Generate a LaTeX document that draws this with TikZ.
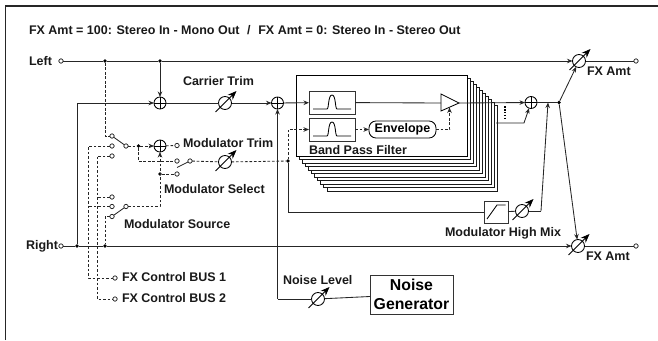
\documentclass[tikz,border=0pt]{standalone}
\usepackage{fontspec}
\setmainfont{Liberation Sans}
\usetikzlibrary{arrows.meta,calc}
\tikzset{
  wire/.style={line width=0.85pt,draw=black!85},
  dsh/.style={wire,dash pattern=on 2.6pt off 1.9pt},
  tip/.style={-{Stealth[length=5.5pt,width=4.5pt]}},
  term/.style={circle,draw=black!85,fill=white,line width=0.75pt,minimum size=4.4pt,inner sep=0,outer sep=0},
  jdot/.style={circle,fill=black,minimum size=3.8pt,inner sep=0,outer sep=0},
  summer/.style={circle,draw=black,fill=white,line width=0.85pt,minimum size=12pt,inner sep=0,outer sep=0,
    path picture={\draw[line width=0.85pt] (path picture bounding box.north)--(path picture bounding box.south)
      (path picture bounding box.west)--(path picture bounding box.east);}},
  knob/.style={circle,draw=black,fill=white,line width=0.85pt,minimum size=13pt,inner sep=0,outer sep=0},
  fbox/.style={draw=black!80,fill=white,line width=0.9pt,inner sep=0,outer sep=0},
  lbl/.style={font=\bfseries\fontsize{12.5}{14}\selectfont,inner sep=0,outer sep=0,anchor=west,text=black!90},
}
\newcommand{\vrknob}[2]{%
  \node[knob] (#1) at (#2) {};
  \draw[line width=0.85pt,-{Stealth[length=9pt,width=7pt]}] ($(#1)+(-9.5,9)$) -- ($(#1)+(11.5,-12)$);
}
\begin{document}
\begin{tikzpicture}[x=1pt,y=-1pt]
\useasboundingbox (0,0) rectangle (658,340);
\draw[line width=1.1pt,draw=black!85] (5.5,340) -- (5.5,6) -- (658,6);

\node[lbl] (title) at (29,30.5) {FX Amt = 100: Stereo In - Mono Out\,\, /\,\, FX Amt = 0: Stereo In - Stereo Out};
\node[lbl] (lleft) at (29,61) {Left};
\node[lbl] (lright) at (26,246) {Right};
\node[lbl] (lcar) at (183,81) {Carrier Trim};
\node[lbl] (lmodt) at (183,143) {Modulator Trim};
\node[lbl] (lmods) at (164,189.5) {Modulator Select};
\node[lbl] (lsrc) at (124,224.5) {Modulator Source};
\node[lbl] (lb1) at (122,277) {FX Control BUS 1};
\node[lbl] (lb2) at (122,298) {FX Control BUS 2};
\node[lbl] (lnoise) at (283,280) {Noise Level};
\node[lbl] (lhigh) at (445,233) {Modulator High Mix};
\node[lbl] (lfx1) at (587,71) {FX Amt};
\node[lbl] (lfx2) at (586,256) {FX Amt};

% filter stack
\foreach \i in {10,...,1}{
  \draw[draw=black!90,fill=white,line width=0.85pt] ({296+3.1*\i},{75+3*\i}) rectangle ({467+3*\i},{156+3.5*\i});
}
\node[fbox,draw=black,minimum width=171pt,minimum height=81pt] (bpf) at (381.5,115.5) {};
\node[lbl] (lbpf) at (309,150) {Band Pass Filter};

% terminals
\node[term] (inL) at (61,61) {};
\node[term] (inR) at (61,246) {};
\node[term] (outL) at (636,61) {};
\node[term] (outR) at (636,246) {};
\node[term] (bus1) at (115,278) {};
\node[term] (bus2) at (115,299) {};
\node[term] (sa1) at (112,136) {};
\node[term] (sa2) at (112,146) {};
\node[term] (sa3) at (112,156) {};
\node[term] (sap) at (126,146) {};
\node[term] (sb1) at (112,197) {};
\node[term] (sb2) at (112,206.5) {};
\node[term] (sb3) at (112,216.5) {};
\node[term] (sbp) at (126,206.5) {};
\node[term] (sc1) at (177,161) {};
\node[term] (sc2) at (177,174) {};
\node[term] (scp) at (190,161) {};
\node[term] (trimend) at (177,145.5) {};

% junctions
\node[jdot] (jL1) at (105,61) {};
\node[jdot] (jL2) at (160,61) {};
\node[jdot] (jR1) at (77,246) {};
\node[jdot] (jR2) at (105,246) {};
\node[jdot] (jm) at (138.5,146) {};
\node[jdot] (js) at (160,174) {};
\node[jdot] (jf) at (288,161) {};
\node[jdot] (jo) at (559,102.5) {};

% summers
\node[summer] (p1) at (160,103) {};
\node[summer] (p2) at (277.5,103) {};
\node[summer] (pm) at (160,146) {};
\node[summer] (p3) at (531,102.5) {};

% boxes
\node[fbox,minimum width=46pt,minimum height=23pt] (bp1) at (332,102.5) {};
\node[fbox,minimum width=46pt,minimum height=23pt] (bp2) at (332,129.5) {};
\draw[line width=0.85pt] (313,109) -- (327,109) .. controls (329,109) and (328,95) .. (332,95) .. controls (336,95) and (335,109) .. (337,109) -- (351,109);
\draw[line width=0.85pt] (313,136) -- (327,136) .. controls (329,136) and (328,122) .. (332,122) .. controls (336,122) and (335,136) .. (337,136) -- (351,136);
\node[draw=black,fill=white,line width=0.85pt,rounded corners=7pt,minimum width=67pt,minimum height=17pt,inner sep=0,outer sep=0,font=\bfseries\fontsize{12.5}{14}\selectfont] (env) at (402.5,129.5) {Envelope};
\node[fbox,minimum width=24pt,minimum height=22pt] (hp) at (496,212) {};
\draw[line width=0.85pt] (487,219) -- (497,205) -- (505.5,205);
\node[fbox,minimum width=83pt,minimum height=39pt,align=center,font=\bfseries\fontsize{15.8}{19}\selectfont] (noise) at (411.5,294.5) {Noise\\Generator};

% triangle
\coordinate (triin) at (441,103);
\coordinate (tri) at (459,103);
\coordinate (trib) at (449.5,107.5);
\draw[fill=white,line width=0.85pt] (441,94) -- (tri) -- (441,111) -- cycle;

% knobs
\vrknob{vc}{225,103}
\vrknob{vm}{225,162}
\vrknob{vn}{318,299}
\vrknob{vh}{522,211}
\vrknob{vol}{579,61}
\vrknob{vor}{578,246}

% switch levers
\draw[wire] (sa1) -- (sap);
\draw[wire] (sb3) -- (sbp);
\draw[wire] ($(sc2)+(0,-6.5)$) -- (scp);

% solid wires
\draw[wire] (inL) -- (jL1);
\draw[wire] (jL1) -- (jL2);
\draw[wire,tip] (jL2) -- (vol);
\draw[wire] (vol) -- (outL);
\draw[wire,tip,line width=0.9pt] (jL2) -- (p1);
\draw[wire] (inR) -- (jR1);
\draw[wire] (jR1) -- (jR2);
\draw[wire,tip] (jR2) -- (vor);
\draw[wire] (vor) -- (outR);
\draw[wire,tip] (jR1) |- (p1);
\draw[wire] (p1) -- (vc);
\draw[wire,tip] (vc) -- (p2);
\draw[wire,tip] (p2) -- (bp1);
\draw[wire] (bp1) -- (triin);
\draw[wire,tip] (tri) -- (p3);
\coordinate (st) at (496,123);
\coordinate (stb) at (524,123);
\draw[wire,tip] (st) -- (stb) -- (p3);
\draw[wire] (p3) -- (jo);
\draw[wire,tip] (jo) -- (vol);
\draw[wire,tip] (jo) -- (vor);
\coordinate (hb) at (541,211);
\coordinate (hm) at (548,102.5);
\draw[wire] (vh) -- (hb);
\draw[wire,tip] (hb) -- (hm);
\draw[wire] (hp) -- (vh);
\draw[wire] (jf) |- (hp);
\coordinate (nb) at (277.5,299);
\draw[wire] (noise) -- (vn);
\draw[wire] (vn) -- (nb);
\draw[wire,tip] (nb) -- (p2);
\draw[line width=1.9pt,dash pattern=on 1.6pt off 1.3pt] (505,106) -- (505,119);

% dashed wires
\draw[dsh] (jL1) |- (sa1);
\draw[dsh] (sap) -- (jm);
\draw[dsh,tip] (jm) -- (pm);
\draw[dsh] (pm) -- (trimend);
\draw[dsh] (jm) |- (sc1);
\draw[dsh] (scp) -- (vm);
\draw[dsh] (vm) -- (jf);
\draw[dsh,tip] (jf) |- (bp2);
\draw[dsh,tip] (bp2) -- (env);
\draw[dsh,tip] (env) -| (trib);
\draw[dsh] (js) -- (sc2);
\draw[dsh,tip] (sbp) -| (pm);
\draw[dsh] (sb3) -| (jR2);
\coordinate (xa) at (88.5,146);
\coordinate (xb) at (97,156);
\draw[dsh] (sa2) -- (xa) |- (bus1);
\draw[dsh] (sa3) -- (xb) |- (bus2);
\draw[dsh] (sb2) -- (sb2 -| xa);
\draw[dsh] (sb1) -- (sb1 -| xb);
\end{tikzpicture}
\end{document}
